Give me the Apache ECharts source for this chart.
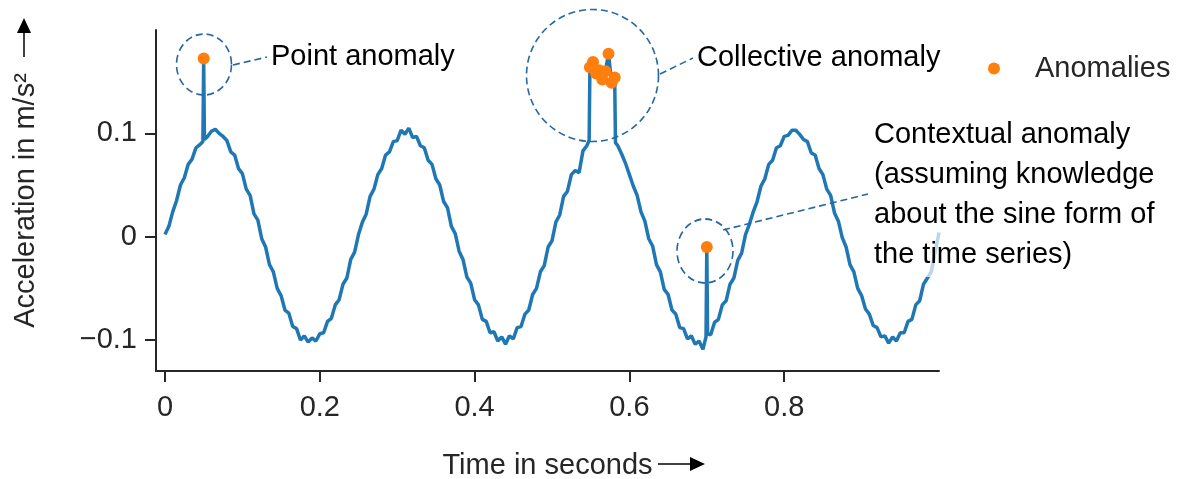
<!DOCTYPE html>
<html>
<head>
<meta charset="utf-8">
<script src="https://cdn.jsdelivr.net/npm/echarts@6/dist/echarts.min.js"></script>
<style>
  html, body { margin: 0; background: #fff; }
  #main { width: 1177px; height: 479px; }
</style>
</head>
<body>
<div id="main"></div>
<script>
  var timeSec = [
    0, 0.005, 0.01, 0.015, 0.02, 0.025, 0.03, 0.035, 0.04, 0.045,
    0.049, 0.05, 0.051, 0.055, 0.06, 0.065, 0.07, 0.075, 0.08, 0.085, 0.09, 0.095,
    0.1, 0.105, 0.11, 0.115, 0.12, 0.125, 0.13, 0.135, 0.14, 0.145,
    0.15, 0.155, 0.16, 0.165, 0.17, 0.175, 0.18, 0.185, 0.19, 0.195,
    0.2, 0.205, 0.21, 0.215, 0.22, 0.225, 0.23, 0.235, 0.24, 0.245,
    0.25, 0.255, 0.26, 0.265, 0.27, 0.275, 0.28, 0.285, 0.29, 0.295,
    0.3, 0.305, 0.31, 0.315, 0.32, 0.325, 0.33, 0.335, 0.34, 0.345,
    0.35, 0.355, 0.36, 0.365, 0.37, 0.375, 0.38, 0.385, 0.39, 0.395,
    0.4, 0.405, 0.41, 0.415, 0.42, 0.425, 0.43, 0.435, 0.44, 0.445,
    0.45, 0.455, 0.46, 0.465, 0.47, 0.475, 0.48, 0.485, 0.49, 0.495,
    0.5, 0.505, 0.51, 0.515, 0.52, 0.525, 0.53, 0.535, 0.54, 0.545,
    0.548, 0.549, 0.553, 0.557, 0.561, 0.565, 0.569, 0.573, 0.577, 0.581, 0.582,
    0.585, 0.59, 0.595, 0.6, 0.605, 0.61, 0.615, 0.62, 0.625, 0.63, 0.635, 0.64, 0.645,
    0.65, 0.655, 0.66, 0.665, 0.67, 0.675, 0.68, 0.685, 0.69, 0.695,
    0.699, 0.7, 0.701, 0.705, 0.71, 0.715, 0.72, 0.725, 0.73, 0.735, 0.74, 0.745,
    0.75, 0.755, 0.76, 0.765, 0.77, 0.775, 0.78, 0.785, 0.79, 0.795,
    0.8, 0.805, 0.81, 0.815, 0.82, 0.825, 0.83, 0.835, 0.84, 0.845,
    0.85, 0.855, 0.86, 0.865, 0.87, 0.875, 0.88, 0.885, 0.89, 0.895,
    0.9, 0.905, 0.91, 0.915, 0.92, 0.925, 0.93, 0.935, 0.94, 0.945,
    0.95, 0.955, 0.96, 0.965, 0.97, 0.975, 0.98, 0.985, 0.99, 0.995, 1
  ];
  var accel = [
    0.002, 0.010, 0.024, 0.035, 0.050, 0.057, 0.070, 0.075, 0.086, 0.089,
    0.092, 0.1725, 0.094, 0.097, 0.102, 0.104, 0.100, 0.097, 0.093, 0.082, 0.079, 0.066,
    0.061, 0.046, 0.040, 0.022, 0.016, -0.002, -0.010, -0.027, -0.034, -0.050,
    -0.057, -0.071, -0.074, -0.087, -0.089, -0.100, -0.096, -0.102, -0.098, -0.101,
    -0.094, -0.093, -0.082, -0.079, -0.066, -0.061, -0.046, -0.040, -0.022, -0.015,
    0.002, 0.014, 0.022, 0.039, 0.046, 0.060, 0.066, 0.079, 0.082, 0.092,
    0.093, 0.103, 0.099, 0.105, 0.096, 0.097, 0.088, 0.086, 0.074, 0.070,
    0.056, 0.050, 0.034, 0.028, 0.010, 0.003, -0.014, -0.022, -0.039, -0.045,
    -0.061, -0.066, -0.080, -0.082, -0.093, -0.092, -0.101, -0.097, -0.104, -0.096,
    -0.099, -0.088, -0.087, -0.075, -0.071, -0.056, -0.050, -0.034, -0.028, -0.010,
    -0.004, 0.014, 0.021, 0.039, 0.044, 0.060, 0.064, 0.062, 0.083, 0.088,
    0.093, 0.164, 0.169, 0.158, 0.161, 0.152, 0.160, 0.177, 0.149, 0.154, 0.091,
    0.088, 0.080, 0.071, 0.060, 0.049, 0.040, 0.024, 0.015, -0.002, -0.009, -0.027, -0.034, -0.051,
    -0.056, -0.071, -0.075, -0.088, -0.089, -0.099, -0.096, -0.104, -0.101, -0.109,
    -0.097, -0.010, -0.094, -0.095, -0.083, -0.080, -0.066, -0.062, -0.046, -0.040, -0.023, -0.016,
    0.002, 0.012, 0.024, 0.034, 0.049, 0.056, 0.070, 0.074, 0.086, 0.088,
    0.097, 0.098, 0.103, 0.103, 0.099, 0.094, 0.092, 0.081, 0.079, 0.066,
    0.060, 0.046, 0.040, 0.023, 0.015, -0.001, -0.010, -0.027, -0.034, -0.050,
    -0.057, -0.070, -0.075, -0.086, -0.088, -0.097, -0.096, -0.103, -0.097, -0.101,
    -0.093, -0.093, -0.082, -0.080, -0.066, -0.062, -0.046, -0.040, -0.034, -0.015, 0.004
  ];

  // marked anomalies
  var anomalyTime = [0.05, 0.549, 0.553, 0.557, 0.561, 0.565, 0.569, 0.573, 0.577, 0.581, 0.7];
  var anomalyAccel = [0.1725, 0.164, 0.169, 0.158, 0.161, 0.152, 0.160, 0.177, 0.149, 0.154, -0.010];

  var xTicks = [0, 0.2, 0.4, 0.6, 0.8];
  var yTicks = [-0.1, 0, 0.1];

  var font = 'Liberation Sans, Arial, sans-serif';
  var fs = 29;
  var ink = '#262626';
  var noteColor = '#2467a3';

  var chart = echarts.init(document.getElementById('main'));

  var linePoints = timeSec.map(function (t, i) { return [t, accel[i]]; });
  var anomalyPoints = anomalyTime.map(function (t, i) { return [t, anomalyAccel[i]]; });

  function dashed() {
    return { fill: 'none', stroke: noteColor, lineWidth: 1.6, lineDash: [7, 4] };
  }

  var option = {
    animation: false,
    backgroundColor: '#fff',
    grid: { left: 156, top: 30, width: 783, height: 341, outerBoundsMode: 'none' },
    legend: {
      data: ['Anomalies'],
      left: 983,
      top: 49,
      icon: 'circle',
      itemWidth: 12,
      itemHeight: 12,
      selectedMode: false,
      textStyle: { fontFamily: font, fontSize: fs, color: ink, padding: [0, 0, 0, 30] }
    },
    xAxis: {
      type: 'value',
      min: -0.0116,
      max: 1,
      name: 'Time in seconds',
      nameLocation: 'middle',
      nameGap: 80,
      nameTextStyle: { fontFamily: font, fontSize: fs, color: ink },
      axisLine: { show: true, onZero: false, lineStyle: { color: ink, width: 2 } },
      axisTick: { show: true, length: 11, customValues: xTicks, lineStyle: { color: ink, width: 2 } },
      axisLabel: {
        customValues: xTicks, margin: 22, fontFamily: font, fontSize: fs, color: ink,
        formatter: function (v) { return String(v); }
      },
      splitLine: { show: false }
    },
    yAxis: {
      type: 'value',
      min: -0.13,
      max: 0.2,
      name: 'Acceleration in m/s²',
      nameLocation: 'middle',
      nameRotate: 90,
      nameGap: 116,
      nameTextStyle: { fontFamily: font, fontSize: fs, color: ink },
      axisLine: { show: true, onZero: false, lineStyle: { color: ink, width: 2 } },
      axisTick: { show: true, length: 11, customValues: yTicks, lineStyle: { color: ink, width: 2 } },
      axisLabel: {
        customValues: yTicks, margin: 19, fontFamily: font, fontSize: fs, color: ink,
        formatter: function (v) { return v < 0 ? '\u2212' + String(-v) : String(v); }
      },
      splitLine: { show: false }
    },
    series: [
      {
        name: 'Signal',
        type: 'line',
        data: linePoints,
        showSymbol: false,
        symbol: 'none',
        lineStyle: { color: '#1f77b4', width: 3.5 },
        itemStyle: { color: '#1f77b4' },
        z: 2
      },
      {
        name: 'Anomalies',
        type: 'scatter',
        data: anomalyPoints,
        symbol: 'circle',
        symbolSize: 12,
        itemStyle: { color: '#ff7f0e', opacity: 1 },
        z: 3
      }
    ],
    graphic: [
      // annotation circles
      { type: 'circle', x: 204, y: 64.5, scaleY: 30.5 / 27.5, shape: { cx: 0, cy: 0, r: 27.5 }, style: dashed(), z: 100, silent: true },
      { type: 'circle', x: 592.5, y: 75.5, shape: { cx: 0, cy: 0, r: 66 }, style: dashed(), z: 100, silent: true },
      { type: 'circle', x: 705, y: 251, scaleY: 32 / 28, shape: { cx: 0, cy: 0, r: 28 }, style: dashed(), z: 100, silent: true },
      // connectors
      { type: 'line', shape: { x1: 233, y1: 65, x2: 267, y2: 57 }, style: dashed(), z: 100, silent: true },
      { type: 'line', shape: { x1: 660, y1: 74, x2: 693, y2: 58 }, style: dashed(), z: 100, silent: true },
      { type: 'line', shape: { x1: 723, y1: 230, x2: 868, y2: 194 }, style: dashed(), z: 100, silent: true },
      // translucent box behind the contextual note
      { type: 'rect', shape: { x: 868, y: 113, width: 305, height: 164 }, style: { fill: 'rgba(255,255,255,0.7)' }, z: 99, silent: true },
      { type: 'text', x: 271, y: 57, style: { text: 'Point anomaly', fontFamily: font, fontSize: fs, fill: '#000', verticalAlign: 'middle' }, z: 101 },
      { type: 'text', x: 697, y: 58, style: { text: 'Collective anomaly', fontFamily: font, fontSize: fs, fill: '#000', verticalAlign: 'middle' }, z: 101 },
      {
        type: 'text', x: 874, y: 115, z: 101,
        style: {
          text: 'Contextual anomaly\n(assuming knowledge\nabout the sine form of\nthe time series)',
          fontFamily: font, fontSize: fs, lineHeight: 40, fill: '#000', verticalAlign: 'top'
        }
      },
      // arrows next to the axis titles
      { type: 'line', shape: { x1: 24, y1: 57, x2: 24, y2: 28 }, style: { stroke: '#000', lineWidth: 1.5 }, z: 100 },
      { type: 'polygon', shape: { points: [[24, 18], [17, 33], [31, 33]] }, style: { fill: '#000' }, z: 100 },
      { type: 'line', shape: { x1: 658, y1: 464, x2: 692, y2: 464 }, style: { stroke: '#000', lineWidth: 1.5 }, z: 100 },
      { type: 'polygon', shape: { points: [[705, 464], [690, 457], [690, 471]] }, style: { fill: '#000' }, z: 100 }
    ]
  };

  chart.setOption(option);
</script>
</body>
</html>
